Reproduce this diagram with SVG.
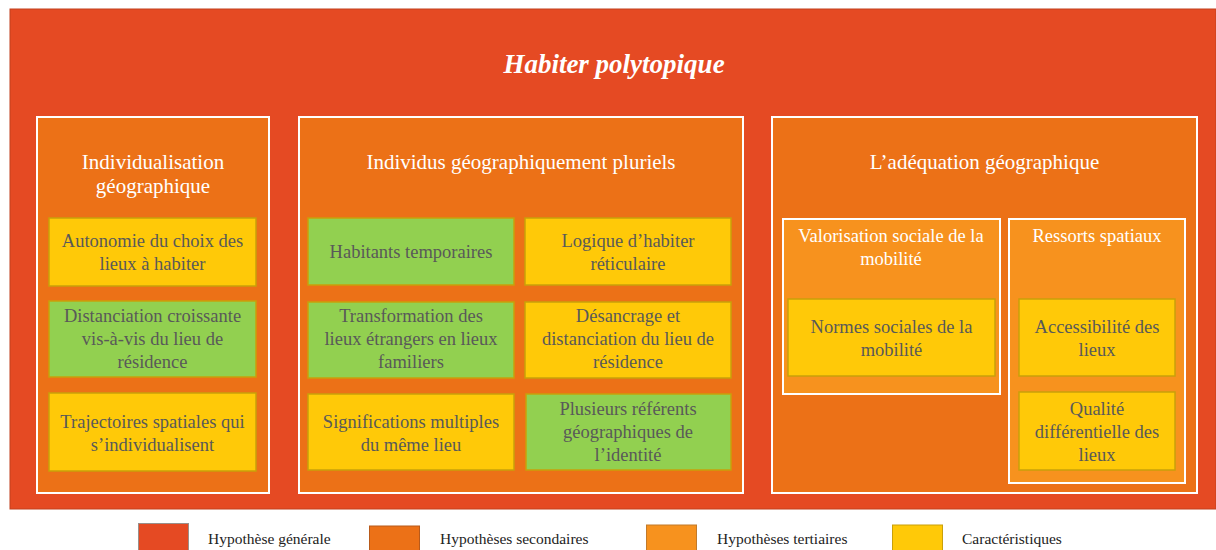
<svg xmlns="http://www.w3.org/2000/svg" width="1216" height="550" viewBox="0 0 1216 550">
<style>
text{font-family:"Liberation Serif","Times New Roman",serif;text-anchor:middle}
.gen{fill:#E54A23;stroke:#C2401F;stroke-width:1}
.sec{fill:#EC7117;stroke:#FFFFFF;stroke-width:2}
.ter{fill:#F7921E;stroke:#FFFFFF;stroke-width:2}
.car{fill:#FFC908;stroke:#C9A00A;stroke-width:1.5}
.grn{fill:#92D050;stroke:#C9A00A;stroke-width:1.5}
.title{fill:#FFFFFF;font-size:27px;font-weight:bold;font-style:italic}
.h2{fill:#FFFFFF;font-size:21px}
.h3{fill:#FFFFFF;font-size:18.5px}
.it{fill:#595959;font-size:18.5px}
.lg{fill:#222222;font-size:15.5px;text-anchor:start}
</style>
<g id="hypothese-generale">
<rect class="gen" x="10" y="9" width="1206" height="500"/>
<text class="title" x="614" y="73">Habiter polytopique</text>
</g>
<g id="individualisation">
<rect class="sec" x="37" y="117" width="232" height="376"/>
<text class="h2" x="153" y="169">Individualisation</text>
<text class="h2" x="153" y="193">géographique</text>
</g>
<g id="autonomie">
<rect class="car" x="49" y="218" width="207" height="68"/>
<text class="it" x="152.5" y="247">Autonomie du choix des</text>
<text class="it" x="152.5" y="270">lieux à habiter</text>
</g>
<g id="distanciation">
<rect class="grn" x="49" y="301" width="207" height="76"/>
<text class="it" x="152.5" y="322">Distanciation croissante</text>
<text class="it" x="152.5" y="345">vis-à-vis du lieu de</text>
<text class="it" x="152.5" y="368">résidence</text>
</g>
<g id="trajectoires">
<rect class="car" x="49" y="393" width="207" height="78"/>
<text class="it" x="152.5" y="428">Trajectoires spatiales qui</text>
<text class="it" x="152.5" y="451">s’individualisent</text>
</g>
<g id="individus-pluriels">
<rect class="sec" x="299" y="117" width="444" height="376"/>
<text class="h2" x="521" y="169">Individus géographiquement pluriels</text>
</g>
<g id="habitants-temporaires">
<rect class="grn" x="308" y="218" width="206" height="67"/>
<text class="it" x="411" y="258">Habitants temporaires</text>
</g>
<g id="logique-reticulaire">
<rect class="car" x="525" y="218" width="206" height="67"/>
<text class="it" x="628" y="247">Logique d’habiter</text>
<text class="it" x="628" y="270">réticulaire</text>
</g>
<g id="transformation">
<rect class="grn" x="308" y="302" width="206" height="76"/>
<text class="it" x="411" y="322">Transformation des</text>
<text class="it" x="411" y="345">lieux étrangers en lieux</text>
<text class="it" x="411" y="368">familiers</text>
</g>
<g id="desancrage">
<rect class="car" x="525" y="302" width="206" height="76"/>
<text class="it" x="628" y="322">Désancrage et</text>
<text class="it" x="628" y="345">distanciation du lieu de</text>
<text class="it" x="628" y="368">résidence</text>
</g>
<g id="significations">
<rect class="car" x="308" y="394" width="206" height="76"/>
<text class="it" x="411" y="428">Significations multiples</text>
<text class="it" x="411" y="451">du même lieu</text>
</g>
<g id="referents">
<rect class="grn" x="526" y="394" width="205" height="76"/>
<text class="it" x="628" y="415">Plusieurs référents</text>
<text class="it" x="628" y="438">géographiques de</text>
<text class="it" x="628" y="461">l’identité</text>
</g>
<g id="adequation">
<rect class="sec" x="772" y="117" width="425" height="376"/>
<text class="h2" x="984.5" y="169">L’adéquation géographique</text>
</g>
<g id="valorisation">
<rect class="ter" x="783" y="219" width="217" height="175"/>
<text class="h3" x="891" y="242">Valorisation sociale de la</text>
<text class="h3" x="891" y="265">mobilité</text>
</g>
<g id="normes">
<rect class="car" x="788" y="299" width="207" height="77"/>
<text class="it" x="891.5" y="333">Normes sociales de la</text>
<text class="it" x="891.5" y="356">mobilité</text>
</g>
<g id="ressorts">
<rect class="ter" x="1009" y="219" width="176" height="264"/>
<text class="h3" x="1097" y="242">Ressorts spatiaux</text>
</g>
<g id="accessibilite">
<rect class="car" x="1019" y="299" width="156" height="77"/>
<text class="it" x="1097" y="333">Accessibilité des</text>
<text class="it" x="1097" y="356">lieux</text>
</g>
<g id="qualite">
<rect class="car" x="1019" y="392" width="156" height="78"/>
<text class="it" x="1097" y="415">Qualité</text>
<text class="it" x="1097" y="438">différentielle des</text>
<text class="it" x="1097" y="461">lieux</text>
</g>
<g id="legende">
<rect x="138.5" y="523.5" width="50" height="30" fill="#E54A23" stroke="#9A8F8A" stroke-width="1"/>
<text class="lg" x="208" y="544">Hypothèse générale</text>
<rect x="369.5" y="526" width="50" height="30" fill="#EC7117" stroke="#B85A1A" stroke-width="1"/>
<text class="lg" x="440" y="544">Hypothèses secondaires</text>
<rect x="646.5" y="525" width="50" height="30" fill="#F7921E" stroke="#C27A2A" stroke-width="1"/>
<text class="lg" x="717" y="544">Hypothèses tertiaires</text>
<rect x="892.5" y="525" width="50" height="30" fill="#FFC908" stroke="#C9A00A" stroke-width="1"/>
<text class="lg" x="962" y="544">Caractéristiques</text>
</g>
</svg>
